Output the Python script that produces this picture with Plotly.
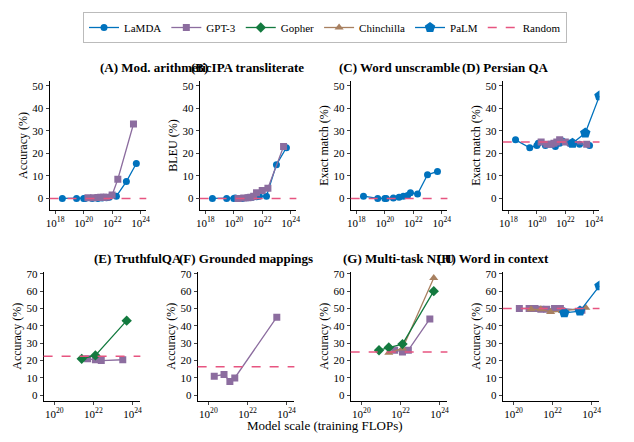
import plotly.graph_objects as go

# log10 of training FLOPs and scores per panel
lamda_x = [18.5, 19.5, 20.0, 20.1, 20.6, 21.0, 21.3, 21.6, 21.8, 22.3, 23.0, 23.7]
gpt3_x = [20.3, 20.7, 21.0, 21.2, 21.4, 21.6, 22.0, 22.4, 23.5]

A_lamda = [0, 0, 0, 0, 0, 0, 0.2, 0.3, 0.5, 1, 7.5, 15.5]
A_gpt3 = [0.3, 0.3, 0.4, 0.5, 0.5, 0.5, 1.5, 8.5, 33]
B_lamda = [0, 0, 0, 0.2, 0, 0.3, 0.5, 0.8, 1, 1, 15, 22.5]
B_gpt3 = [0, 0.2, 0.3, 0.5, 1, 2.5, 3.5, 4.5, 23]
C_lamda = [1, 0, 0, 0, 0.2, 0.5, 1, 1.3, 2.5, 2, 10.5, 12]
D_lamda = [26, 22.5, 23.5, 24.5, 23.5, 24, 23, 24.5, 25.5, 24.5, 24, 23.5]
D_gpt3 = [25, 24, 24, 24.5, 25, 26, 25, 24.5, 24]
D_palm_x = [22.5, 23.4, 24.4]
D_palm = [24.5, 29, 45.5]

E_gopher_x = [21.4, 22.1, 23.7]
E_gopher = [21, 23, 43]
E_gpt3_x = [21.7, 22.1, 22.4, 23.5]
E_gpt3 = [21, 20.5, 20, 20.5]

F_gpt3_x = [20.3, 20.8, 21.1, 21.35, 23.5]
F_gpt3 = [11, 12, 8, 10, 45]

G_gopher_x = [20.9, 21.4, 22.1, 23.7]
G_gopher = [26, 27.5, 29.5, 60]
G_chin_x = [21.4, 22.1, 23.7]
G_chin = [24.5, 27, 67.5]
G_gpt3_x = [21.7, 22.1, 22.4, 23.5]
G_gpt3 = [26, 25, 26, 44]

H_gpt3_x = [20.3, 20.8, 21.1, 21.4, 21.7, 22.1, 22.4, 23.5]
H_gpt3 = [50, 50, 50, 49.5, 49.5, 50, 50, 49]
H_chin_x = [20.9, 21.4, 21.9, 22.5, 23.7]
H_chin = [49.5, 49.5, 48, 48.5, 50.5]
H_palm_x = [22.6, 23.4, 24.4]
H_palm = [47.5, 48.5, 63]

random_lines = [0, 0, 0, 25, 22.5, 16.5, 25, 50]
titles = ["(A) Mod. arithmetic", "(B) IPA transliterate", "(C) Word unscramble", "(D) Persian QA",
          "(E) TruthfulQA", "(F) Grounded mappings", "(G) Multi-task NLU", "(H) Word in context"]
ylabels = ["Accuracy (%)", "BLEU (%)", "Exact match (%)", "Exact match (%)",
           "Accuracy (%)", "Accuracy (%)", "Accuracy (%)", "Accuracy (%)"]

styles = {
    "LaMDA": dict(color="#0072bd", symbol="circle", size=7),
    "GPT-3": dict(color="#8c6d9f", symbol="square", size=7),
    "Gopher": dict(color="#137a3f", symbol="diamond", size=8),
    "Chinchilla": dict(color="#a88060", symbol="triangle-up", size=8),
    "PaLM": dict(color="#0072bd", symbol="pentagon", size=11),
}

panels = [
    [("LaMDA", lamda_x, A_lamda), ("GPT-3", gpt3_x, A_gpt3)],
    [("LaMDA", lamda_x, B_lamda), ("GPT-3", gpt3_x, B_gpt3)],
    [("LaMDA", lamda_x, C_lamda)],
    [("LaMDA", lamda_x, D_lamda), ("GPT-3", gpt3_x, D_gpt3), ("PaLM", D_palm_x, D_palm)],
    [("GPT-3", E_gpt3_x, E_gpt3), ("Gopher", E_gopher_x, E_gopher)],
    [("GPT-3", F_gpt3_x, F_gpt3)],
    [("GPT-3", G_gpt3_x, G_gpt3), ("Chinchilla", G_chin_x, G_chin), ("Gopher", G_gopher_x, G_gopher)],
    [("GPT-3", H_gpt3_x, H_gpt3), ("Chinchilla", H_chin_x, H_chin), ("PaLM", H_palm_x, H_palm)],
]

W, H = 634, 442
xpix = [(38, 136), (190, 288), (343, 441), (497, 595), (32, 130), (188, 286), (343, 441), (497, 595)]
ypix_top, ypix_bot = (70, 200), (263, 393)
font = "Liberation Serif, DejaVu Serif, serif"

fig = go.Figure()
layout = {}
shapes = []
annotations = []
for i, series in enumerate(panels):
    n = "" if i == 0 else str(i + 1)
    top = i < 4
    yp = ypix_top if top else ypix_bot
    x0, x1 = xpix[i]
    for name, xs, ys in series:
        st = styles[name]
        fig.add_trace(go.Scatter(
            x=[10.0 ** v for v in xs], y=ys, mode="lines+markers", name=name,
            line=dict(color=st["color"], width=1.3),
            marker=dict(color=st["color"], symbol=st["symbol"], size=st["size"]),
            xaxis="x" + n, yaxis="y" + n, showlegend=False))
    if top:
        tv = [18, 20, 22, 24]
        xr = [17.6, 24.4]
        yr = [-5, 52]
        ytv = [0, 10, 20, 30, 40, 50]
    else:
        tv = [20, 22, 24]
        xr = [19.45, 24.4]
        yr = [-3, 71]
        ytv = [0, 10, 20, 30, 40, 50, 60, 70]
    layout["xaxis" + n] = dict(
        type="log", range=xr, domain=[x0 / W, x1 / W], anchor="y" + n,
        tickvals=[10.0 ** t for t in tv], ticktext=["10<sup>%d</sup>" % t for t in tv],
        showgrid=False, showline=True, linecolor="black", ticks="outside", ticklen=3,
        tickfont=dict(size=11), zeroline=False)
    layout["yaxis" + n] = dict(
        range=yr, domain=[1 - yp[1] / H, 1 - yp[0] / H], anchor="x" + n,
        tickvals=ytv, showgrid=False, showline=True, linecolor="black", ticks="outside",
        ticklen=3, zeroline=False, tickfont=dict(size=11),
        title=dict(text=ylabels[i], font=dict(size=12), standoff=2))
    shapes.append(dict(type="line", xref="x%s domain" % n, yref="y" + n, x0=0, x1=1,
                       y0=random_lines[i], y1=random_lines[i],
                       line=dict(color="#e75480", width=1.5, dash="dash")))
    annotations.append(dict(text="<b>%s</b>" % titles[i], xref="paper", yref="paper",
                            x=(x0 + x1) / 2 / W, y=1 - (yp[0] - 4) / H, showarrow=False,
                            yanchor="bottom", font=dict(size=13)))

# legend entries
for name in ["LaMDA", "GPT-3", "Gopher", "Chinchilla", "PaLM"]:
    st = styles[name]
    fig.add_trace(go.Scatter(x=[None], y=[None], mode="lines+markers", name=name,
                             line=dict(color=st["color"], width=1.3),
                             marker=dict(color=st["color"], symbol=st["symbol"], size=st["size"])))
fig.add_trace(go.Scatter(x=[None], y=[None], mode="lines", name="Random",
                         line=dict(color="#e75480", width=1.5, dash="dash")))

annotations.append(dict(text="Model scale (training FLOPs)", xref="paper", yref="paper",
                        x=0.5, y=1 - 428 / H, showarrow=False, font=dict(size=13)))

fig.update_layout(
    **layout, shapes=shapes, annotations=annotations,
    width=W, height=H, margin=dict(l=0, r=0, t=0, b=0),
    plot_bgcolor="white", paper_bgcolor="white",
    font=dict(family=font, color="black", size=11),
    legend=dict(orientation="h", x=0.5, xanchor="center", y=1.0, yanchor="top",
                bordercolor="#bbbbbb", borderwidth=1, font=dict(size=11),
                itemwidth=30, tracegroupgap=0))
fig.write_html("out.html")
